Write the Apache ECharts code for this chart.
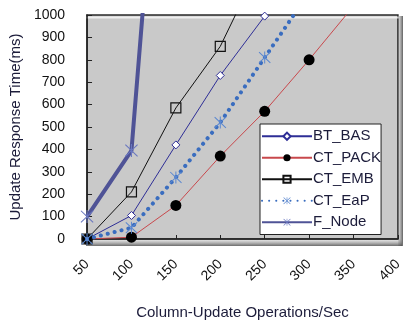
<!DOCTYPE html>
<html><head><meta charset="utf-8">
<script src="https://cdn.jsdelivr.net/npm/echarts@6/dist/echarts.min.js"></script>
<style>html,body{margin:0;padding:0;background:#fff}#c{width:405px;height:325px}</style>
</head><body><div id="c"></div>
<script>
const xCategories = [50, 100, 150, 200, 250, 300, 350];
const btBas  = [0, 105, 420, 730, 995];
const ctPack = [0, 8, 150, 370, 570, 800, 1040];
const ctEmb  = [0, 210, 585, 860, 1270];
const ctEap  = [0, 50, 275, 520, 810, 1100];
const fNode  = [100, 395, 2840];
const seriesNames = ['BT_BAS', 'CT_PACK', 'CT_EMB', 'CT_EaP', 'F_Node'];

const pairs = vals => vals.map((v, i) => [xCategories[i], v]);
const star = 'path://M9.2 0L10.8 0L10.8 20L9.2 20ZM1.57 0.43L19.57 18.43L18.43 19.57L0.43 1.57ZM18.43 0.43L19.57 1.57L1.57 19.57L0.43 18.43Z';
const font = 'Liberation Sans, Arial, sans-serif';
const txt = '#1c1c3a';

const chart = echarts.init(document.getElementById('c'), null, {renderer: 'canvas'});
chart.setOption({
  animation: false,
  grid: {left: 85, right: 1, top: 15, bottom: 79, show: true, backgroundColor: '#c9c9c9', borderColor: '#2a2a2a', borderWidth: 1.5, containLabel: false},
  graphic: [
    {type: 'rect', shape: {x: 86, y: 16.5, width: 314, height: 2}, style: {fill: 'rgba(255,255,255,0.7)'}, z: 0, silent: true},
    {type: 'rect', shape: {x: 398, y: 16, width: 5, height: 230}, style: {fill: new echarts.graphic.LinearGradient(0, 0, 1, 0, [{offset: 0, color: 'rgba(120,120,120,0.2)'}, {offset: 1, color: 'rgba(60,60,60,0.8)'}])}, z: 0, silent: true},
    {type: 'rect', shape: {x: 86, y: 239, width: 316, height: 7}, style: {fill: new echarts.graphic.LinearGradient(0, 0, 0, 1, [{offset: 0, color: 'rgba(160,160,160,0.2)'}, {offset: 1, color: 'rgba(70,70,70,0.8)'}])}, z: 0, silent: true}
  ],
  legend: {
    data: seriesNames,
    orient: 'vertical',
    left: 260, top: 124,
    width: 122,
    backgroundColor: '#fff', borderColor: '#222', borderWidth: 1,
    padding: [4, 0, 4, 1],
    itemWidth: 50, itemHeight: 9, itemGap: 5,
    textStyle: {fontFamily: font, fontSize: 15, color: txt, lineHeight: 16.5, padding: [0, 0, 0, -4]}
  },
  xAxis: {
    type: 'value', min: 50, max: 400, interval: 50,
    name: 'Column-Update Operations/Sec', nameLocation: 'middle', nameGap: 66,
    nameTextStyle: {fontFamily: font, fontSize: 15, color: txt},
    axisLine: {lineStyle: {color: '#222', width: 1.5}},
    axisTick: {inside: true, length: 4, lineStyle: {color: '#222'}},
    axisLabel: {rotate: 45, margin: 23, fontFamily: font, fontSize: 14, color: '#111', formatter: v => String(v)},
    splitLine: {show: false}
  },
  yAxis: {
    type: 'value', min: 0, max: 1000, interval: 100,
    name: 'Update Response Time(ms)', nameLocation: 'middle', nameGap: 57,
    nameTextStyle: {fontFamily: font, fontSize: 15, color: txt},
    axisLine: {lineStyle: {color: '#222', width: 1.5}},
    axisTick: {inside: true, length: 5, lineStyle: {color: '#222'}},
    axisLabel: {margin: 22, fontFamily: font, fontSize: 14, color: '#111', formatter: v => String(v)},
    splitLine: {show: false}
  },
  series: [
    {name: 'BT_BAS', type: 'line', data: pairs(btBas), symbol: 'diamond', symbolSize: 8,
      lineStyle: {color: '#2e2e96', width: 1}, itemStyle: {color: '#fff', borderColor: '#2e2e96', borderWidth: 1}, z: 3},
    {name: 'CT_PACK', type: 'line', data: pairs(ctPack), symbol: 'circle', symbolSize: 11,
      lineStyle: {color: '#c8484c', width: 1}, itemStyle: {color: '#000', borderColor: '#000', borderWidth: 0}, z: 3},
    {name: 'CT_EMB', type: 'line', data: pairs(ctEmb), symbol: 'rect', symbolSize: 10,
      lineStyle: {color: '#111', width: 1}, itemStyle: {color: 'rgba(0,0,0,0)', borderColor: '#111', borderWidth: 1.2}, z: 3},
    {name: 'CT_EaP', type: 'line', data: pairs(ctEap), symbol: star, symbolSize: 12,
      lineStyle: {color: '#3a6dbf', width: 4, type: [0.1, 7], cap: 'round'}, itemStyle: {color: '#5b88d0'}, z: 4},
    {name: 'F_Node', type: 'line', data: pairs(fNode), symbol: star, symbolSize: 13,
      lineStyle: {color: '#4f5396', width: 4}, itemStyle: {color: '#6a78c0'}, z: 4}
  ]
});
</script></body></html>
